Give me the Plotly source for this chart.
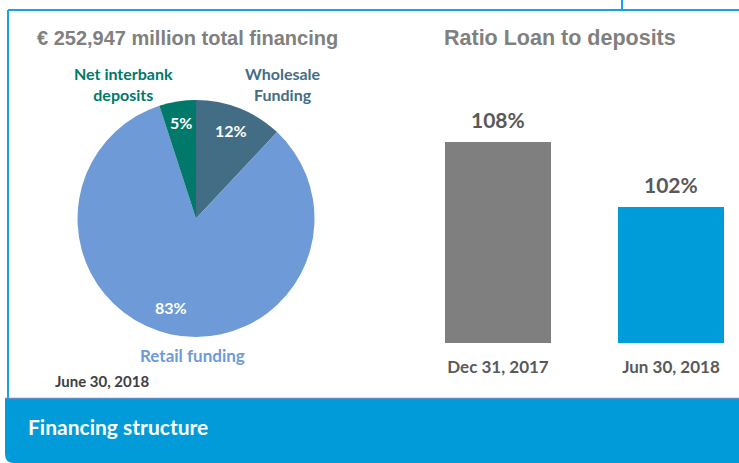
import math
import plotly.graph_objects as go

W, H = 739, 463

# Data
pie_labels = ["Wholesale Funding", "Retail funding", "Net interbank deposits"]
pie_values = [12, 83, 5]
pie_colors = ["#436D85", "#6E9BD7", "#00796B"]

bar_categories = ["Dec 31, 2017", "Jun 30, 2018"]
bar_values = [108, 102]
bar_colors = ["#7F7F7F", "#009BD9"]

title_left = "€ 252,947 million total financing"
title_right = "Ratio Loan to deposits"
footer_text = "Financing structure"
date_text = "June 30, 2018"

CAL = "Lato, 'Open Sans', sans-serif"
ARI = "'Liberation Sans', Arial, sans-serif"


def px(x):
    return x / W


def py(y):
    return 1 - y / H


# pie geometry (pixels)
PCX, PCY, PR = 196, 218.5, 118.5

fig = go.Figure()

fig.add_trace(go.Pie(
    labels=pie_labels, values=pie_values, sort=False, direction="clockwise",
    rotation=0, marker=dict(colors=pie_colors, line=dict(width=0)),
    textinfo="none",
    domain=dict(x=[px(PCX - PR), px(PCX + PR)], y=[py(PCY + PR), py(PCY - PR)]),
    showlegend=False, hoverinfo="label+percent",
))

fig.add_trace(go.Bar(
    x=[0, 1], y=bar_values, width=0.613,
    marker=dict(color=bar_colors, line=dict(width=0)),
    showlegend=False, xaxis="x", yaxis="y",
))

ann = []
# pie percentage labels placed near slice mid-angles
total = sum(pie_values)
cum = 0
radial = [0.8, 0.78, 0.82]
angle_shift = [0, 0.05, 0]   # small rotation nudge (radians)
for v, rf, sh in zip(pie_values, radial, angle_shift):
    mid = (cum + v / 2) / total * 2 * math.pi + sh
    cum += v
    x = PCX + rf * PR * math.sin(mid)
    y = PCY - rf * PR * math.cos(mid)
    ann.append(dict(x=px(x), y=py(y), xref="paper", yref="paper",
                    xanchor="center", yanchor="middle",
                    text=f"<b>{round(100 * v / total)}%</b>", showarrow=False,
                    font=dict(family=CAL, size=16, color="white")))

for i, v in enumerate(bar_values):
    ann.append(dict(x=i, y=v, xref="x", yref="y", text=f"<b>{v}%</b>",
                    showarrow=False, xanchor="center", yanchor="middle", yshift=23,
                    font=dict(family=CAL, size=21, color="#595959")))

ann += [
    dict(x=px(187), y=py(38), text=f"<b>{title_left}</b>",
         font=dict(family=ARI, size=20, color="#808080")),
    dict(x=px(560), y=py(38), text=f"<b>{title_right}</b>",
         font=dict(family=ARI, size=21.5, color="#808080")),
    dict(x=px(123), y=py(84), text="<b>Net interbank<br>deposits</b>",
         font=dict(family=CAL, size=16, color=pie_colors[2])),
    dict(x=px(283), y=py(84), text="<b>Wholesale<br>Funding</b>",
         font=dict(family=CAL, size=16, color=pie_colors[0])),
    dict(x=px(192), y=py(355), text="<b>Retail funding</b>",
         font=dict(family=CAL, size=17, color=pie_colors[1])),
    dict(x=px(53), y=py(381), xanchor="left", text=f"<b>{date_text}</b>",
         font=dict(family=CAL, size=15, color="#404040")),
    dict(x=px(26), y=py(426), xanchor="left", text=f"<b>{footer_text}</b>",
         font=dict(family=CAL, size=21, color="white")),
]
for a in ann[len(pie_values) + len(bar_values):]:
    a.setdefault("xanchor", "center")
    a.update(xref="paper", yref="paper", yanchor="middle", showarrow=False)

frame_col = "#1BA1E2"
shapes = [
    dict(type="line", xref="paper", yref="paper", x0=px(8), x1=1, y0=py(10), y1=py(10),
         line=dict(color=frame_col, width=2)),
    dict(type="line", xref="paper", yref="paper", x0=px(8), x1=px(8), y0=py(10), y1=py(398),
         line=dict(color=frame_col, width=2)),
    dict(type="line", xref="paper", yref="paper", x0=px(622), x1=px(622), y0=1, y1=py(10),
         line=dict(color=frame_col, width=2)),
    dict(type="path", xref="paper", yref="paper",
         path=(f"M {px(5)},{py(398)} L 1,{py(398)} L 1,0 "
               f"L {px(14)},0 Q {px(5)},0 {px(5)},{py(454)} Z"),
         fillcolor="#009BD8", line=dict(width=0), layer="above"),
    dict(type="line", xref="paper", yref="paper", x0=px(5), x1=1, y0=py(398.5), y1=py(398.5),
         line=dict(color="#5C8BC4", width=1.5), layer="above"),
]

fig.update_layout(
    width=W, height=H, margin=dict(l=0, r=0, t=0, b=0),
    paper_bgcolor="white", plot_bgcolor="white",
    xaxis=dict(domain=[px(406.45), 1], range=[-0.529, 1.393],
               tickmode="array", tickvals=[0, 1],
               ticktext=[f"<b>{c}</b>" for c in bar_categories],
               ticks="outside", ticklen=9, tickcolor="rgba(0,0,0,0)",
               tickfont=dict(family=CAL, size=17, color="#595959"),
               showgrid=False, zeroline=False, showline=False, fixedrange=True),
    yaxis=dict(domain=[py(343), py(100)], range=[89.5, 111.9], visible=False,
               showgrid=False, zeroline=False, fixedrange=True),
    annotations=ann, shapes=shapes, bargap=0,
)

fig.write_html("out.html", config={"displayModeBar": False},
               post_script="document.body.style.margin='0';")
